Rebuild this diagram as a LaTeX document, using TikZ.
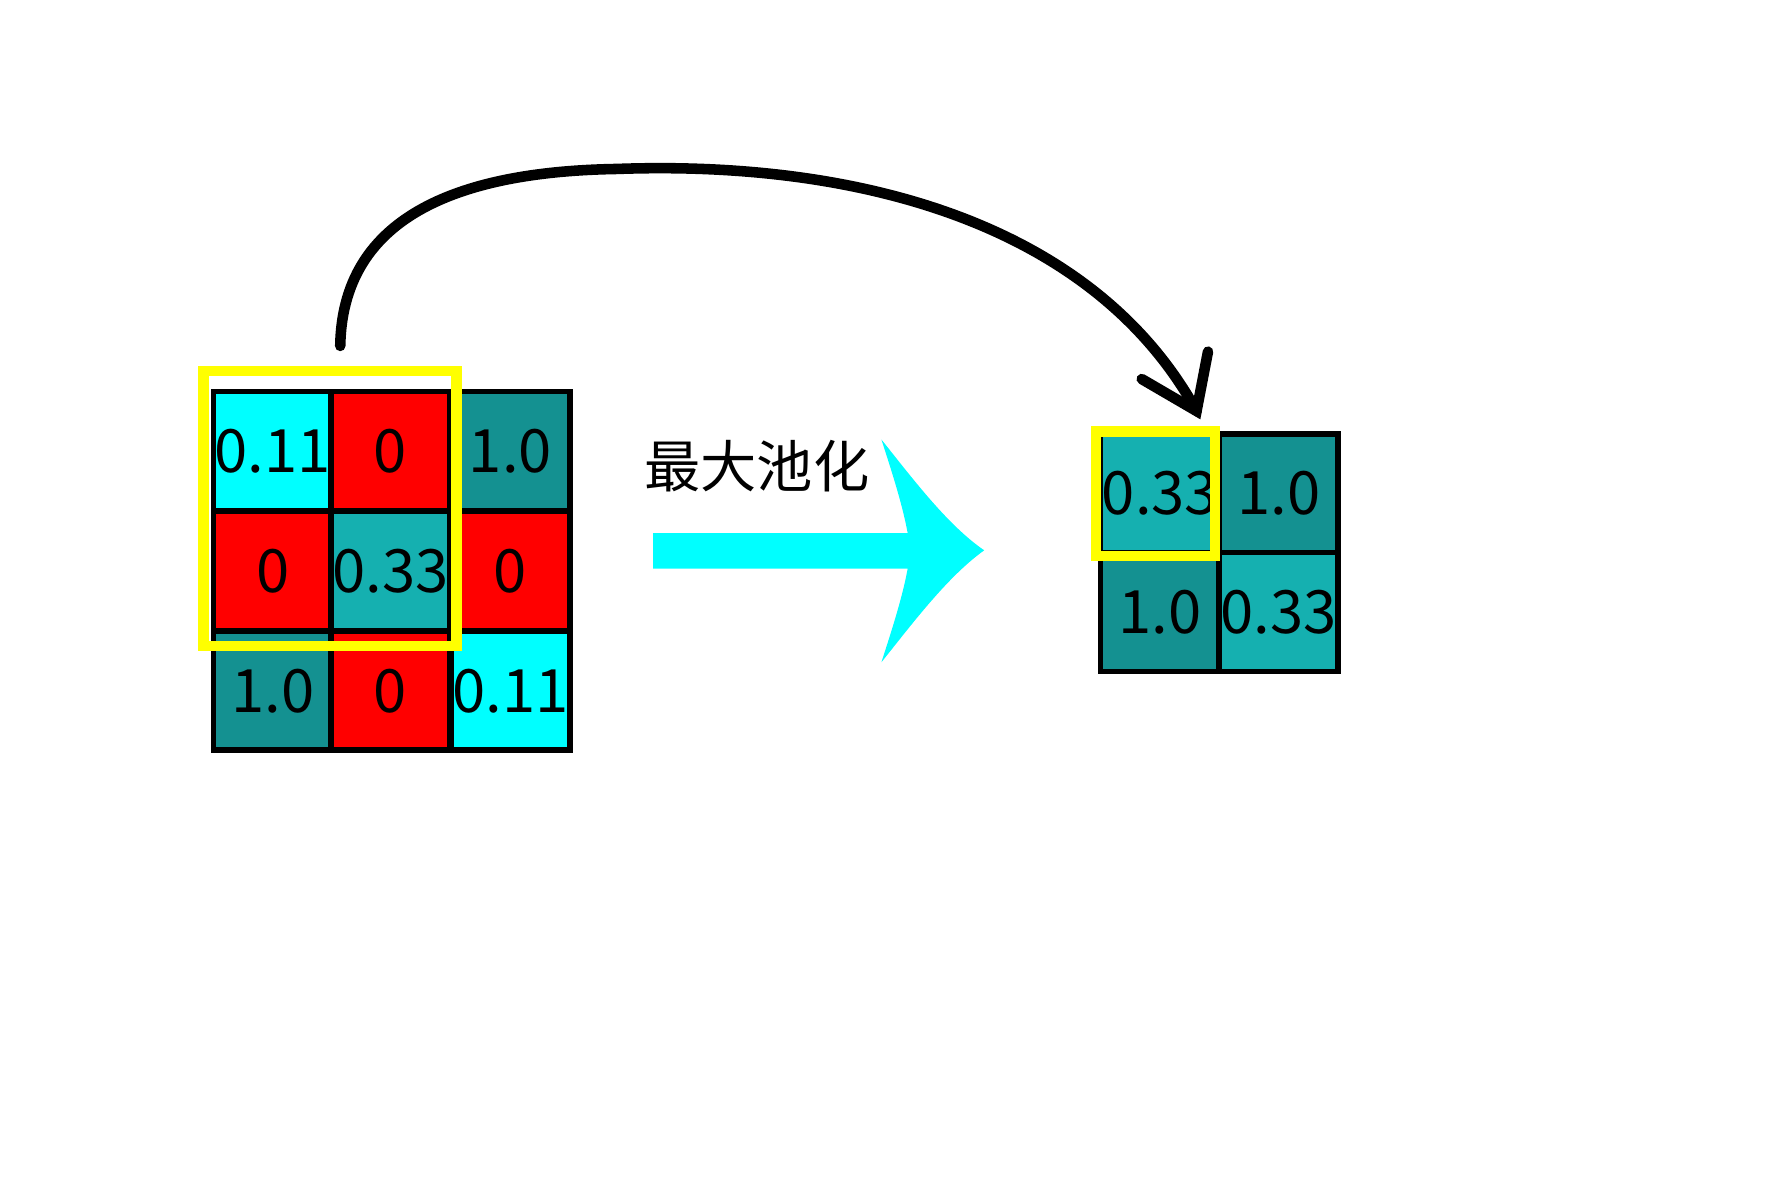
\documentclass[tikz,border=0pt]{standalone}
\usepackage{fontspec}
\setmainfont{Noto Sans CJK SC}
\usetikzlibrary{positioning}
\definecolor{cyanc}{RGB}{0,255,255}
\definecolor{redc}{RGB}{255,0,0}
\definecolor{darkteal}{RGB}{20,145,145}
\definecolor{midteal}{RGB}{21,176,176}
\definecolor{yel}{RGB}{255,255,0}
\begin{document}
\begin{tikzpicture}[x=0.011418cm, y=-0.011418cm,
            cell/.style={draw=black, line width=1.6pt, minimum size=1.19cm, inner sep=0pt,
              font=\fontsize{17}{19}\selectfont},
            pick/.style={draw=yel, line width=3pt},
            hop/.style={line width=3pt, line cap=round}
        ]
        \useasboundingbox (0,0) rectangle (1552,1034);

        % Input map (3x3)
        \node[cell, fill=cyanc] (A11) at (239,395) {0.11};
        \node[cell, fill=redc] (A12) at (342,395) {0};
        \node[cell, fill=darkteal] (A13) at (447,395) {1.0};
        \node[cell, fill=redc] (A21) at (239,500) {0};
        \node[cell, fill=midteal] (A22) at (342,500) {0.33};
        \node[cell, fill=redc] (A23) at (447,500) {0};
        \node[cell, fill=darkteal] (A31) at (239,605) {1.0};
        \node[cell, fill=redc] (A32) at (342,605) {0};
        \node[cell, fill=cyanc] (A33) at (447,605) {0.11};
        \draw[pick] (178,325) rectangle (400,566);

        % Pooled map (2x2)
        \node[cell, fill=midteal] (B11) at (1016,432) {0.33};
        \node[cell, fill=darkteal] (B12) at (1120,432) {1.0};
        \node[cell, fill=darkteal] (B21) at (1016,536) {1.0};
        \node[cell, fill=midteal] (B22) at (1120,536) {0.33};
        \draw[pick] (960,378) rectangle (1064,487);

        % Big cyan arrow
        \fill[cyanc] (572,467) -- (795,467) .. controls (790,440) and (780,410) .. (772,385)
          .. controls (800,420) and (830,460) .. (862,482)
          .. controls (830,505) and (800,545) .. (772,580)
          .. controls (780,555) and (790,525) .. (795,498) -- (572,498) -- cycle;
        \node[font=\fontsize{16}{18}\selectfont] (lbl) at (663,408) {最大池化};

        % Curved hop
        \coordinate (start) at (298,303);
        \coordinate (tip) at (1048,360);
        \draw[hop] (start) .. controls (300,180) and (420,150) .. (540,148)
          .. controls (760,140) and (960,200) .. (tip);
        \draw[hop] (1000,332) -- (tip) -- (1058,308);
    \end{tikzpicture}
\end{document}
